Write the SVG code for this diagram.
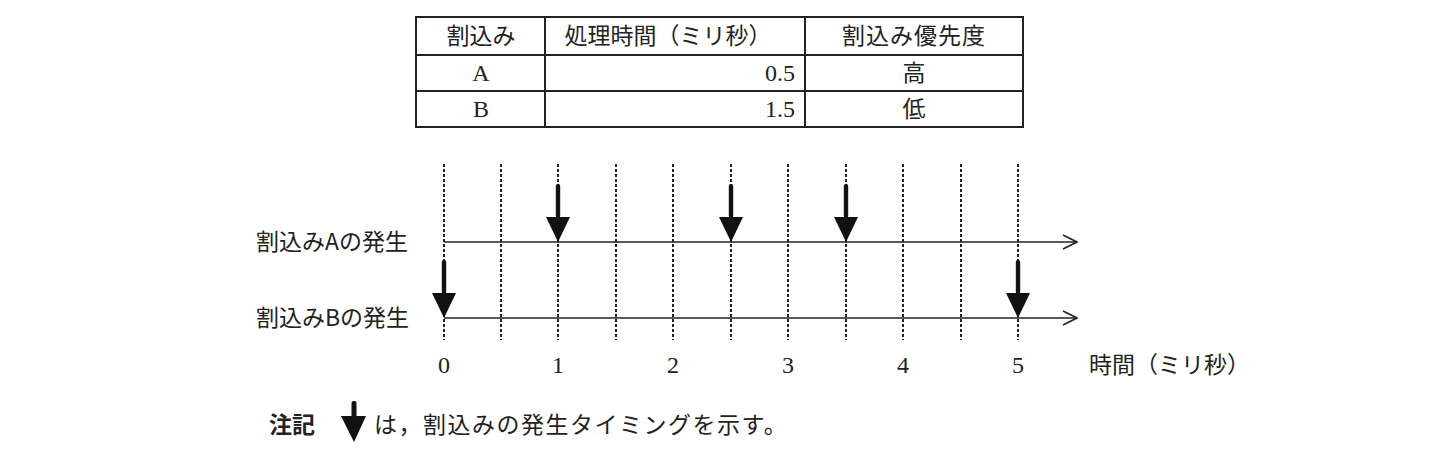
<svg xmlns="http://www.w3.org/2000/svg" width="1433" height="470" viewBox="0 0 1433 470">
<style>
.t{font-family:"Noto Sans CJK JP","Liberation Serif",sans-serif;font-size:23px;fill:#222;}
.n{font-family:"Liberation Serif","Noto Sans CJK JP",serif;font-size:24px;fill:#222;}
.grid{stroke:#222;stroke-width:2;stroke-dasharray:3 2;fill:none;}
.axis{stroke:#222;stroke-width:1.6;fill:none;}
.tb{stroke:#222;stroke-width:2;fill:none;}
.ev{fill:#111;}
</style>
<defs>
<marker id="open" viewBox="0 0 16 16" refX="15" refY="8" markerWidth="16" markerHeight="16" markerUnits="userSpaceOnUse" orient="auto">
<path d="M1,1 L15,8 L1,15" fill="none" stroke="#222" stroke-width="1.6"/>
</marker>
<g id="evt">
<rect x="-2.2" y="-58" width="4.4" height="34" rx="2" class="ev"/>
<path d="M-12,-25 L12,-25 L0,0 Z" class="ev"/>
</g>
</defs>
<rect width="1433" height="470" fill="#fff"/>

<g id="table">
<rect x="416" y="17" width="607" height="110" class="tb"/>
<line x1="416" y1="55" x2="1023" y2="55" class="tb"/>
<line x1="416" y1="91" x2="1023" y2="91" class="tb"/>
<line x1="545" y1="17" x2="545" y2="127" class="tb"/>
<line x1="805" y1="17" x2="805" y2="127" class="tb"/>
<text x="481" y="44" class="t" text-anchor="middle">割込み</text>
<text x="668" y="44" class="t" text-anchor="middle">処理時間（ミリ秒）</text>
<text x="914" y="44" class="t" text-anchor="middle" letter-spacing="1">割込み優先度</text>
<text x="481" y="81" class="n" text-anchor="middle">A</text>
<text x="795" y="81" class="n" text-anchor="end">0.5</text>
<text x="914" y="81" class="t" text-anchor="middle">高</text>
<text x="481" y="117" class="n" text-anchor="middle">B</text>
<text x="795" y="117" class="n" text-anchor="end">1.5</text>
<text x="914" y="117" class="t" text-anchor="middle">低</text>
</g>

<g id="grid">
<line x1="444" y1="164" x2="444" y2="340" class="grid"/>
<line x1="501" y1="164" x2="501" y2="340" class="grid"/>
<line x1="558" y1="164" x2="558" y2="340" class="grid"/>
<line x1="616" y1="164" x2="616" y2="340" class="grid"/>
<line x1="673" y1="164" x2="673" y2="340" class="grid"/>
<line x1="731" y1="164" x2="731" y2="340" class="grid"/>
<line x1="788" y1="164" x2="788" y2="340" class="grid"/>
<line x1="846" y1="164" x2="846" y2="340" class="grid"/>
<line x1="903" y1="164" x2="903" y2="340" class="grid"/>
<line x1="961" y1="164" x2="961" y2="340" class="grid"/>
<line x1="1018" y1="164" x2="1018" y2="340" class="grid"/>
</g>

<g id="connectors">
<line x1="444" y1="242" x2="1077" y2="242" class="axis" marker-end="url(#open)"/>
<line x1="444" y1="318" x2="1077" y2="318" class="axis" marker-end="url(#open)"/>
</g>

<g id="events">
<use href="#evt" x="558" y="242"/>
<use href="#evt" x="731" y="242"/>
<use href="#evt" x="846" y="242"/>
<use href="#evt" x="444" y="318"/>
<use href="#evt" x="1018" y="318"/>
</g>

<g id="labels">
<text x="256" y="250" class="t">割込みAの発生</text>
<text x="256" y="326" class="t">割込みBの発生</text>
<text x="444" y="373" class="n" text-anchor="middle">0</text>
<text x="558" y="373" class="n" text-anchor="middle">1</text>
<text x="673" y="373" class="n" text-anchor="middle">2</text>
<text x="788" y="373" class="n" text-anchor="middle">3</text>
<text x="903" y="373" class="n" text-anchor="middle">4</text>
<text x="1018" y="373" class="n" text-anchor="middle">5</text>
<text x="1089" y="373" class="t">時間（ミリ秒）</text>
</g>

<g id="note">
<text x="269" y="433" class="t" font-weight="bold">注記</text>
<rect x="351.5" y="401" width="5" height="18" rx="2" class="ev"/>
<path d="M341,416 L366,416 L354,442 Z" class="ev"/>
<text x="374" y="433" class="t" letter-spacing="1.5">は，割込みの発生タイミングを示す。</text>
</g>
</svg>
